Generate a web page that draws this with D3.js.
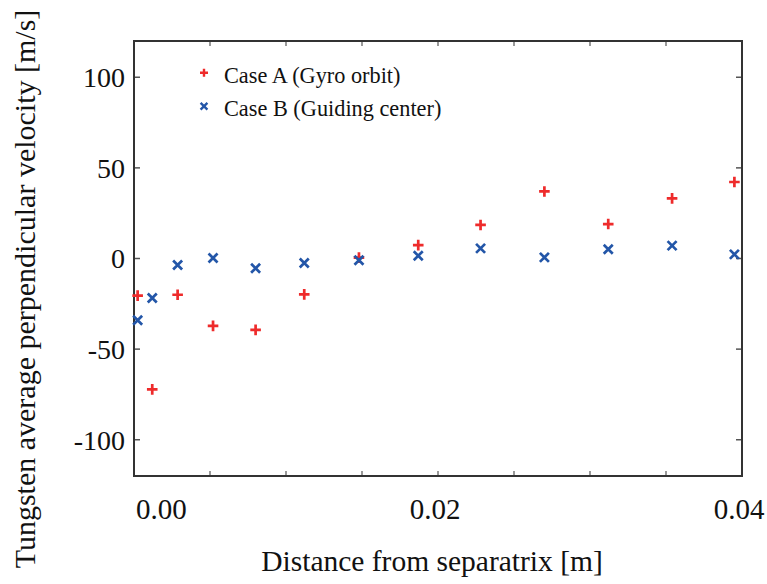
<!DOCTYPE html>
<html>
<head>
<meta charset="utf-8">
<script src="https://cdn.jsdelivr.net/npm/d3@7"></script>
<style>
  html, body { margin: 0; padding: 0; background: #fff; }
  svg { display: block; }
</style>
</head>
<body>
<svg id="chart" width="767" height="584"></svg>
<script>
// ---- data ----
const distance = [0.00024, 0.0012, 0.00287, 0.0052, 0.0080, 0.0112, 0.0148, 0.0187, 0.0228, 0.0270, 0.0312, 0.0354, 0.0395];
const caseA = [-20.5, -72.2, -20.0, -37.2, -39.4, -19.8, 0.5, 7.4, 18.5, 37.0, 19.0, 33.2, 42.2];
const caseB = [-34.1, -21.8, -3.6, 0.3, -5.4, -2.5, -1.0, 1.5, 5.6, 0.6, 5.1, 7.1, 2.3];
const seriesNames = ["Case A (Gyro orbit)", "Case B (Guiding center)"];
const xTickLabels = ["0.00", "0.02", "0.04"];
const xTickValues = [0.00, 0.02, 0.04];
const xMinorTicks = [0.005, 0.01, 0.015, 0.02, 0.025, 0.03, 0.035];
const yTicks = [-100, -50, 0, 50, 100];

const colors = ["#ee2b2b", "#2356a8"];
const FONT = "'Liberation Serif', 'Times New Roman', 'DejaVu Serif', serif";

const svg = d3.select("#chart");
const L = 134, R = 742, T = 41, B = 476;
const x = d3.scaleLinear().domain([0, 0.04]).range([L, R]);
const y = d3.scaleLinear().domain([-120, 120]).range([B, T]);

const axisColor = "#333";
const tickColor = "#555";

// ticks (inward) on all four sides
const gx = svg.append("g");
xMinorTicks.forEach(v => {
  gx.append("line").attr("x1", x(v)).attr("x2", x(v)).attr("y1", B).attr("y2", B - 5)
    .attr("stroke", tickColor).attr("stroke-width", 1.2);
  gx.append("line").attr("x1", x(v)).attr("x2", x(v)).attr("y1", T).attr("y2", T + 5)
    .attr("stroke", tickColor).attr("stroke-width", 1.2);
});
yTicks.forEach(v => {
  gx.append("line").attr("x1", L).attr("x2", L + 6).attr("y1", y(v)).attr("y2", y(v))
    .attr("stroke", tickColor).attr("stroke-width", 1.5);
  gx.append("line").attr("x1", R).attr("x2", R - 6).attr("y1", y(v)).attr("y2", y(v))
    .attr("stroke", tickColor).attr("stroke-width", 1.5);
});

// frame
svg.append("rect").attr("x", L).attr("y", T).attr("width", R - L).attr("height", B - T)
  .attr("fill", "none").attr("stroke", axisColor).attr("stroke-width", 2);

// y tick labels
svg.append("g").selectAll("text").data(yTicks).join("text")
  .attr("font-family", FONT).attr("fill", "#111")
  .attr("x", L - 9).attr("y", d => y(d)).attr("dy", "0.35em")
  .attr("text-anchor", "end").attr("font-size", 28)
  .text(d => String(d));

// x tick labels
svg.append("g").selectAll("text").data(xTickValues).join("text")
  .attr("font-family", FONT).attr("fill", "#111")
  .attr("x", (d, i) => i === 0 ? x(d) + 2 : x(d) - 3)
  .attr("y", 519)
  .attr("text-anchor", (d, i) => i === 0 ? "start" : "middle")
  .attr("font-size", 29)
  .text((d, i) => xTickLabels[i]);

// axis titles
svg.append("text").attr("font-family", FONT).attr("fill", "#111")
  .attr("x", (L + R) / 2 - 6).attr("y", 571)
  .attr("text-anchor", "middle").attr("font-size", 29.5)
  .text("Distance from separatrix [m]");
svg.append("text").attr("font-family", FONT).attr("fill", "#111")
  .attr("transform", `translate(35,289) rotate(-90)`)
  .attr("text-anchor", "middle").attr("font-size", 30)
  .text("Tungsten average perpendicular velocity [m/s]");

// markers
function plusPath(s) { return `M${-s},0L${s},0M0,${-s}L0,${s}`; }
function crossPath(s) { return `M${-s},${-s}L${s},${s}M${-s},${s}L${s},${-s}`; }

const pts = distance.map((d, i) => ({ x: d, a: caseA[i], b: caseB[i] }));

svg.append("g").selectAll("path").data(pts).join("path")
  .attr("transform", d => `translate(${x(d.x)},${y(d.a)})`)
  .attr("d", plusPath(5.3)).attr("stroke", colors[0]).attr("stroke-width", 2.7).attr("fill", "none");

svg.append("g").selectAll("path").data(pts).join("path")
  .attr("transform", d => `translate(${x(d.x)},${y(d.b)})`)
  .attr("d", crossPath(4.5)).attr("stroke", colors[1]).attr("stroke-width", 2.7).attr("fill", "none");

// legend
const leg = svg.append("g");
seriesNames.forEach((name, i) => {
  const ly = 72.7 + i * 33.5;
  leg.append("path").attr("transform", `translate(204,${ly})`)
    .attr("d", i === 0 ? plusPath(4) : crossPath(3.4))
    .attr("stroke", colors[i]).attr("stroke-width", 2.4).attr("fill", "none");
  leg.append("text").attr("font-family", FONT).attr("fill", "#111")
    .attr("x", 224).attr("y", ly + 10)
    .attr("font-size", 22.3).text(name);
});
</script>
</body>
</html>
